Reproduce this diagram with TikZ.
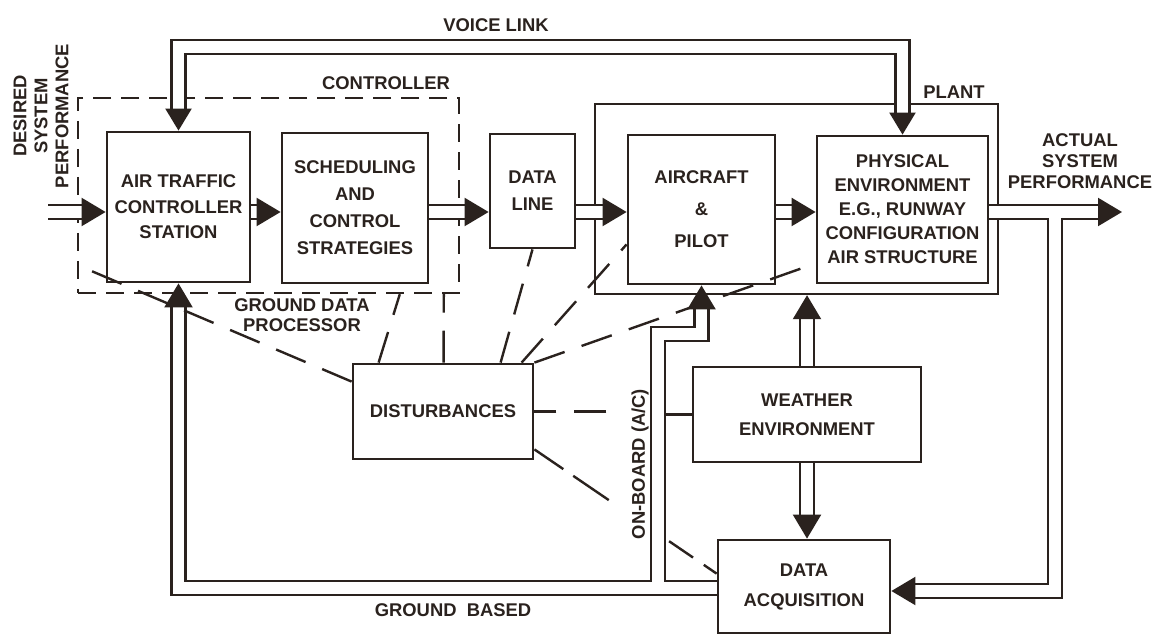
\documentclass[tikz,border=0pt]{standalone}
\usepackage{fontspec}
\newfontfamily\lblfont{Liberation Sans}
\usetikzlibrary{arrows.meta,calc}
\definecolor{ink}{RGB}{42,34,30}
\begin{document}
\begin{tikzpicture}[x=0.5pt,y=-0.5pt,
  fs/.style={font=\lblfont\bfseries\fontsize{9.2pt}{#1}\selectfont},
  box/.style={draw=ink, line width=1.4pt, align=center, inner sep=0pt, text=ink},
  grp/.style={draw=ink, line width=1.2pt, inner sep=0pt},
  ctrlbox/.style={dash pattern=on 9pt off 5pt},
  lab/.style={text=ink, align=center, inner sep=0pt},
  dbl/.style={draw=ink, line width=1.1pt, double=white, double distance=5.9pt},
  arr/.style={-{Triangle[length=12pt,width=14pt]}},
  arrtwo/.style={{Triangle[length=11pt,width=13pt]}-{Triangle[length=11pt,width=13pt]}},
  dline/.style={draw=ink, line width=1.2pt, dash pattern=on 16pt off 9pt},
  conn/.style={draw=ink, line width=1.1pt}
]
\useasboundingbox (0,0) rectangle (1155,640);
\fill[white] (0,0) rectangle (1155,640);

\coordinate (my) at (0,212);
\coordinate (vy) at (0,47);
\coordinate (gy) at (0,588);
\coordinate (fy) at (0,591);
\coordinate (oy) at (0,334);
\coordinate (bx) at (1055,0);
\coordinate (ob) at (658,0);
\coordinate (src) at (48,212);
\coordinate (out) at (1122,212);

% groups
\node[grp, ctrlbox, minimum width=190.5pt, minimum height=97.5pt] (ctrl) at (268.5,195.5) {};
\node[grp, minimum width=201.5pt, minimum height=95pt] (plant) at (796.5,199) {};

% boxes
\node[box, fs=12.75pt, minimum width=71.5pt, minimum height=75pt] (atc) at (178.5,207) {AIR TRAFFIC\\CONTROLLER\\STATION};
\node[box, fs=13.5pt, minimum width=73pt, minimum height=75pt] (sched) at (355,208) {SCHEDULING\\AND\\CONTROL\\STRATEGIES};
\node[box, fs=13.5pt, minimum width=42.5pt, minimum height=57pt] (dataline) at (532.5,191) {DATA\\LINE};
\node[box, fs=16pt, minimum width=73.5pt, minimum height=74.5pt] (aircraft) at (701.5,209.5) {AIRCRAFT\\\&\\PILOT};
\node[box, fs=12pt, minimum width=85.5pt, minimum height=73.5pt] (phys) at (902.5,209.5) {PHYSICAL\\ENVIRONMENT\\E.G., RUNWAY\\CONFIGURATION\\AIR STRUCTURE};
\node[box, fs=12pt, minimum width=90pt, minimum height=47.5pt] (dist) at (443,411.5) {DISTURBANCES};
\node[box, fs=14.5pt, minimum width=114pt, minimum height=47.5pt] (weather) at (807,414.5) {WEATHER\\ENVIRONMENT};
\node[box, fs=15pt, minimum width=86pt, minimum height=46.5pt] (dataacq) at (804,586.5) {DATA\\ACQUISITION};

% single connector weather -> on-board line
\draw[conn] (weather.west) -- (weather.west -| ob);

% double connectors
\draw[dbl, arr] (src) -- (atc.west |- my);
\draw[dbl, arr] (atc.east |- my) -- (sched.west |- my);
\draw[dbl, arr] (sched.east |- my) -- (dataline.west |- my);
\draw[dbl, arr] (dataline.east |- my) -- (aircraft.west |- my);
\draw[dbl, arr] (aircraft.east |- my) -- (phys.west |- my);
\draw[dbl, arr] (phys.east |- my) -- (out);
\draw[dbl, arr] ($(bx |- my)+(0,5.9)$) -- (bx |- fy) -- (dataacq.east |- fy);
\draw[dbl, arrtwo] (atc.north) -- (atc.north |- vy) -- (phys.north |- vy) -- (phys.north);
\draw[dbl, arr] (dataacq.west |- gy) -- (atc.south |- gy) -- (atc.south);
\draw[dbl, arr] ($(ob |- gy)+(0,-5.9)$) -- (ob |- oy) -- (aircraft.south |- oy) -- (aircraft.south);
\draw[dbl, arr] (weather.north) -- (weather.north |- plant.south);
\draw[dbl, arr] (weather.south) -- (weather.south |- dataacq.north);

% disturbance lines
\draw[dline] ($(dist.north west)+(0,19)$) -- ($(ctrl.north west)+(0,168)$);
\draw[dline] ($(dist.north west)+(27,0)$) -- ($(ctrl.south west)+(323,0)$);
\draw[dline] ($(dist.north west)+(92,0)$) -- ($(ctrl.south west)+(367,0)$);
\draw[dline] ($(dist.north west)+(149,0)$) -- (dataline.south);
\draw[dline] ($(dist.north west)+(170,0)$) -- ($(aircraft.south west)+(0,-41)$);
\draw[dline] (dist.north east) -- ($(phys.south west)+(0,-21)$);
\draw[dline] ($(dist.east)+(72,0)$) -- (dist.east);
\draw[dline, dash pattern=on 17.5pt off 6pt on 21.5pt off 36.5pt on 14.5pt off 6.5pt on 20pt off 1pt]
  ($(dist.south east)+(0,-11)$) -- ($(dataacq.north west)+(0,35)$);

% labels
\node[lab, fs=11pt] (voice) at (496,25) {VOICE LINK};
\node[lab, fs=11pt] (ctrllab) at (386,83) {CONTROLLER};
\node[lab, fs=11pt] (plantlab) at (954,92) {PLANT};
\node[lab, fs=10.5pt] (actual) at (1080,161) {ACTUAL\\SYSTEM\\PERFORMANCE};
\node[lab, fs=10.5pt, rotate=90] (desired) at (41,116) {DESIRED\\SYSTEM\\PERFORMANCE};
\node[lab, fs=10pt] (gdp) at (302,315) {GROUND DATA\\PROCESSOR};
\node[lab, fs=11pt] (gb) at (453,610) {GROUND\ \ BASED};
\node[lab, fs=11pt, rotate=90] (onboard) at (640,464) {ON-BOARD (A/C)};
\end{tikzpicture}
\end{document}
